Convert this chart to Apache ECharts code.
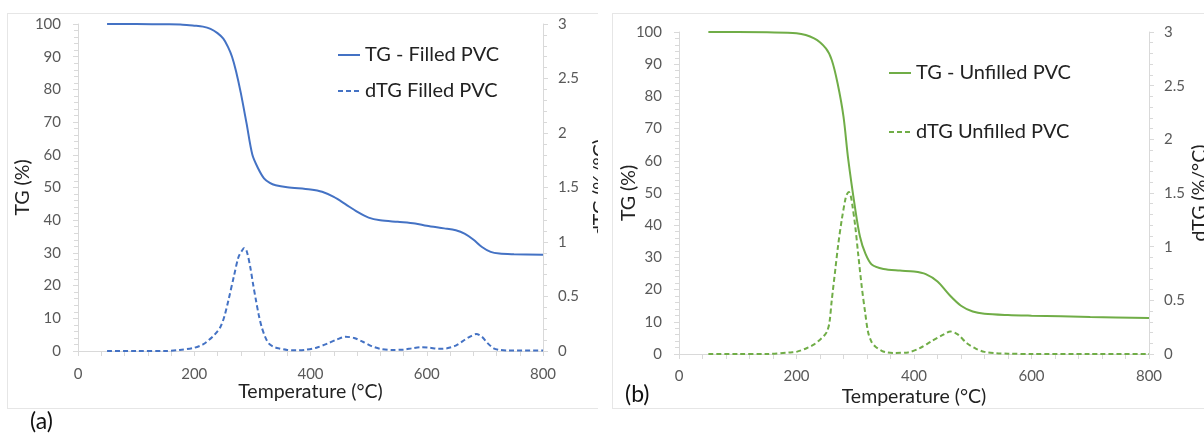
<!DOCTYPE html>
<html>
<head>
<meta charset="utf-8">
<script src="https://cdn.jsdelivr.net/npm/echarts@6/dist/echarts.min.js"></script>
<style>
  html, body { margin: 0; padding: 0; background: #fff; }
  body { width: 1204px; height: 433px; position: relative; overflow: hidden; font-family: Lato, "Open Sans", sans-serif; }
  .panel { position: absolute; border: 1px solid #e6e6e6; overflow: hidden; background: #fff; }
  #panelA { left: 7px; top: 13px; width: 590px; height: 394px; border-right: none; }
  #panelB { left: 612px; top: 13px; width: 600px; height: 394px; }
  .tag { position: absolute; font-size: 23px; color: #111; line-height: 1; }
</style>
</head>
<body>
<div id="panelA" class="panel"></div>
<div id="panelB" class="panel"></div>
<div class="tag" style="left:30px; top:409px;">(a)</div>
<div class="tag" style="left:625px; top:382px;">(b)</div>
<script>
// ---------- DATA ----------
const xTicks = [0, 200, 400, 600, 800];
const tgTicks = [0, 10, 20, 30, 40, 50, 60, 70, 80, 90, 100];
const dtgTicks = [0, 0.5, 1, 1.5, 2, 2.5, 3];

// (a) Filled PVC
const tgFilledT = [50,100,150,180,200,215,228,240,250,258,265,272,280,290,300,310,320,330,340,360,400,420,440,460,480,500,520,550,580,600,630,650,665,680,695,710,725,750,800];
const tgFilledV = [100,100,99.9,99.8,99.5,99.2,98.5,97.2,95.5,93,90,85.5,79,69.6,60,55.8,52.8,51.4,50.7,50.1,49.4,48.7,47.1,44.9,42.6,40.8,40,39.5,39,38.3,37.5,36.9,35.9,34.1,31.8,30.3,29.8,29.6,29.4];

const dtgFilledT = [50,100,150,175,200,215,225,235,245,252,259,268,276,282,286,290,296,301,306,311,316,322,328,336,345,360,375,390,410,430,445,460,475,490,505,520,540,560,575,590,605,620,635,650,662,672,685,695,705,715,725,740,800];
const dtgFilledV = [0,0,0,0.01,0.03,0.06,0.1,0.15,0.22,0.32,0.47,0.68,0.86,0.92,0.945,0.92,0.78,0.62,0.47,0.33,0.22,0.13,0.07,0.04,0.025,0.01,0.006,0.01,0.03,0.07,0.105,0.13,0.12,0.085,0.045,0.02,0.01,0.012,0.025,0.035,0.03,0.02,0.025,0.05,0.09,0.125,0.155,0.13,0.07,0.025,0.01,0.005,0.005];

// (b) Unfilled PVC
const tgUnfilledT = [50,100,150,200,230,250,260,270,280,288,300,308,317,328,348,376,400,420,440,460,480,500,520,560,600,700,800];
const tgUnfilledV = [100,100,99.9,99.6,98,94.9,91.3,84,73.7,60.5,45,36.5,31.3,27.8,26.4,25.9,25.6,24.8,22.5,18.4,15,13.2,12.5,12.1,11.9,11.5,11.2];

const dtgUnfilledT = [50,100,150,190,200,218,230,240,247,252,256,260,266,271,277,283,286,289,292,295,300,305,311,317,322,328,334,345,354,365,390,410,430,450,462,475,490,505,520,540,560,600,700,800];
const dtgUnfilledV = [0,0,0,0.015,0.02,0.056,0.09,0.133,0.17,0.21,0.29,0.5,0.785,1.02,1.25,1.437,1.49,1.51,1.48,1.39,1.19,0.93,0.63,0.38,0.2,0.11,0.07,0.03,0.015,0.01,0.015,0.055,0.12,0.18,0.21,0.18,0.1,0.05,0.02,0.008,0.003,0,0,0];

// ---------- BUILD ----------
const FONT = 'Lato, "Open Sans", sans-serif';
const pair = (t, v) => t.map((x, i) => [x, v[i]]);

function makeOption(cfg) {
  const axisLineStyle = { color: '#d9d9d9', width: 1 };
  const tickStyle = { color: '#d9d9d9', width: 1 };
  const labelStyle = { color: '#595959', fontSize: 15, fontFamily: FONT };
  const nameStyle = { color: '#222', fontSize: 19.5, fontFamily: FONT };
  const legendText = { fontSize: 20, color: '#222', fontFamily: FONT };
  return {
    animation: false,
    backgroundColor: '#fff',
    grid: { left: cfg.grid.left, top: cfg.grid.top, width: cfg.grid.width, height: cfg.grid.height,
            containLabel: false, outerBoundsMode: 'none' },
    legend: [
      { data: [cfg.names[0]], left: cfg.legend.left, top: cfg.legend.top1, padding: 0, itemWidth: 22, itemHeight: 14,
        itemStyle: { opacity: 0 }, textStyle: legendText },
      { data: [cfg.names[1]], left: cfg.legend.left, top: cfg.legend.top2, padding: 0, itemWidth: 22, itemHeight: 14,
        itemStyle: { opacity: 0 }, textStyle: legendText }
    ],
    xAxis: {
      type: 'value', min: xTicks[0], max: xTicks[xTicks.length - 1], interval: xTicks[1] - xTicks[0],
      name: 'Temperature (°C)', nameLocation: 'middle', nameGap: cfg.xNameGap, nameTextStyle: nameStyle,
      nameMoveOverlap: false,
      axisLine: { show: true, onZero: false, lineStyle: axisLineStyle },
      axisTick: { show: true, length: 5, lineStyle: tickStyle },
      minorTick: { show: true, splitNumber: 5, length: 5, lineStyle: tickStyle },
      axisLabel: Object.assign({ margin: cfg.xLabelMargin }, labelStyle),
      splitLine: { show: false }
    },
    yAxis: [
      {
        type: 'value', min: tgTicks[0], max: tgTicks[tgTicks.length - 1], interval: tgTicks[1] - tgTicks[0],
        name: 'TG (%)', nameLocation: 'middle', nameGap: cfg.yNameGap, nameTextStyle: nameStyle,
        nameMoveOverlap: false,
        axisLine: { show: true, onZero: false, lineStyle: axisLineStyle },
        axisTick: { show: true, length: 5, lineStyle: tickStyle },
        minorTick: { show: true, splitNumber: 5, length: 4, lineStyle: tickStyle },
        axisLabel: Object.assign({ margin: 17 }, labelStyle),
        splitLine: { show: false }
      },
      {
        type: 'value', position: 'right', min: dtgTicks[0], max: dtgTicks[dtgTicks.length - 1], interval: dtgTicks[1] - dtgTicks[0],
        name: 'dTG (%/°C)', nameLocation: 'middle', nameGap: cfg.y2NameGap, nameTextStyle: nameStyle,
        nameMoveOverlap: false,
        axisLine: { show: true, onZero: false, lineStyle: axisLineStyle },
        axisTick: { show: true, length: 5, lineStyle: tickStyle },
        minorTick: { show: true, splitNumber: 5, length: 4, lineStyle: tickStyle },
        axisLabel: Object.assign({ margin: 15 }, labelStyle),
        splitLine: { show: false }
      }
    ],
    series: [
      { name: cfg.names[0], type: 'line', yAxisIndex: 0, data: cfg.tg, smooth: 0.3, symbol: 'none',
        lineStyle: { color: cfg.color, width: 2 }, itemStyle: { color: cfg.color } },
      { name: cfg.names[1], type: 'line', yAxisIndex: 1, data: cfg.dtg, smooth: 0.3, symbol: 'none',
        lineStyle: { color: cfg.color, width: 2, type: [5, 3] }, itemStyle: { color: cfg.color } }
    ]
  };
}

const chartA = echarts.init(document.getElementById('panelA'), null, { renderer: 'canvas' });
chartA.setOption(makeOption({
  grid: { left: 70, top: 10, width: 465, height: 327 },
  legend: { left: 329, top1: 31, top2: 67 },
  names: ['TG - Filled PVC', 'dTG Filled PVC'],
  color: '#4472C4',
  tg: pair(tgFilledT, tgFilledV),
  dtg: pair(dtgFilledT, dtgFilledV),
  xNameGap: 31, yNameGap: 45, y2NameGap: 48, xLabelMargin: 16
}));

const chartB = echarts.init(document.getElementById('panelB'), null, { renderer: 'canvas' });
chartB.setOption(makeOption({
  grid: { left: 66, top: 18, width: 470, height: 322 },
  legend: { left: 275, top1: 49, top2: 108 },
  names: ['TG - Unfilled PVC', 'dTG Unfilled PVC'],
  color: '#70AD47',
  tg: pair(tgUnfilledT, tgUnfilledV),
  dtg: pair(dtgUnfilledT, dtgUnfilledV),
  xNameGap: 33, yNameGap: 40, y2NameGap: 41, xLabelMargin: 15
}));
</script>
</body>
</html>
